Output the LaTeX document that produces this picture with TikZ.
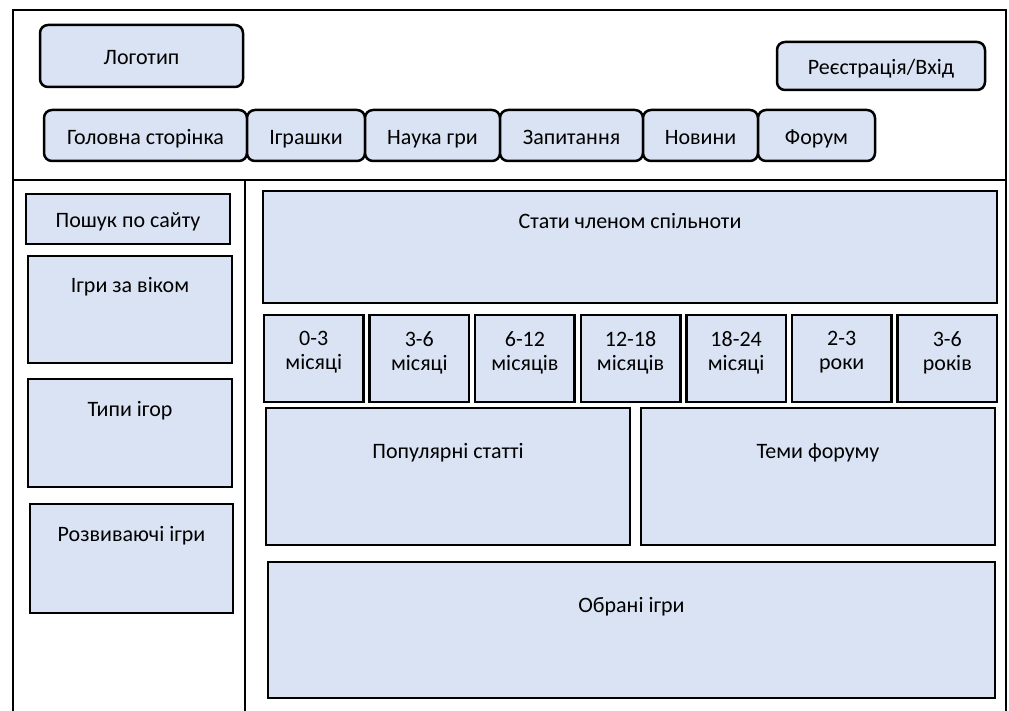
\documentclass[tikz,border=0pt]{standalone}
\usepackage{fontspec}
\setmainfont{Carlito}
\usetikzlibrary{positioning}

\definecolor{boxfill}{HTML}{DAE3F3}

\tikzset{
  frame/.style={line width=2.5pt},
  panel/.style={draw=black, line width=2.5pt, fill=boxfill, inner sep=0pt, outer sep=0pt,
    align=center, text height=21pt, text depth=3pt},
  btn/.style={panel, rounded corners=8pt},
  caption/.style={anchor=base, align=center, inner sep=0pt},
}

\begin{document}
\begin{tikzpicture}[x=1pt, y=-1pt, font=\fontsize{22}{24}\selectfont]
\useasboundingbox (0,0) rectangle (1009,711);

% page frame, header line and sidebar line
\draw[frame] (13,711) -- (13,10) -- (1006,10) -- (1006,711);
\draw[frame] (13,180) -- (1006,180);
\draw[frame] (245,180) -- (245,711);

% header
\node[btn, minimum width=203, minimum height=62] (logo) at (141.5,56) {Логотип};
\node[btn, minimum width=208, minimum height=48] (login) at (881,66) {Реєстрація/Вхід};

% menu
\node[btn, minimum width=203, minimum height=51] (home) at (145.5,135.5) {Головна сторінка};
\node[btn, minimum width=118, minimum height=51, right=0pt of home] (toys) {Іграшки};
\node[btn, minimum width=135, minimum height=51, right=0pt of toys] (science) {Наука гри};
\node[btn, minimum width=143, minimum height=51, right=0pt of science] (faq) {Запитання};
\node[btn, minimum width=115, minimum height=51, right=0pt of faq] (news) {Новини};
\node[btn, minimum width=117, minimum height=51, right=0pt of news] (forum) {Форум};

% sidebar
\node[panel, minimum width=204, minimum height=50] (search) at (128,219) {Пошук по сайту};
\node[panel, minimum width=204, minimum height=107,
  label={[caption, yshift=-36pt]north:Ігри за віком}] (byage) at (130,309.5) {};
\node[panel, minimum width=204, minimum height=108,
  label={[caption, yshift=-37pt]north:Типи ігор}] (types) at (130,433) {};
\node[panel, minimum width=203, minimum height=109,
  label={[caption, yshift=-37pt]north:Розвиваючі ігри}] (devel) at (131.5,558.5) {};

% content
\node[panel, minimum width=734, minimum height=112,
  label={[caption, yshift=-38pt]north:Стати членом спільноти}] (join) at (630,247) {};

\foreach \lo/\hi [count=\i from 0] in {0-3/місяці, 3-6/місяці, 6-12/місяців,
    12-18/місяців, 18-24/місяці, 2-3/роки, 3-6/років}
  \node[panel, minimum width=99.5, minimum height=87,
    label={[caption, anchor=north, yshift=-16pt]north:\lo\\\hi}] (age\i) at ({313.75+105.6*\i},358.5) {};

\node[panel, minimum width=364, minimum height=137,
  label={[caption, yshift=-50pt]north:Популярні статті}] (popular) at (448,476.5) {};
\node[panel, minimum width=354, minimum height=137,
  label={[caption, yshift=-50pt]north:Теми форуму}] (topics) at (818,476.5) {};
\node[panel, minimum width=727, minimum height=136,
  label={[caption, yshift=-50pt]north:Обрані ігри}] (chosen) at (631.5,630) {};
\end{tikzpicture}
\end{document}
